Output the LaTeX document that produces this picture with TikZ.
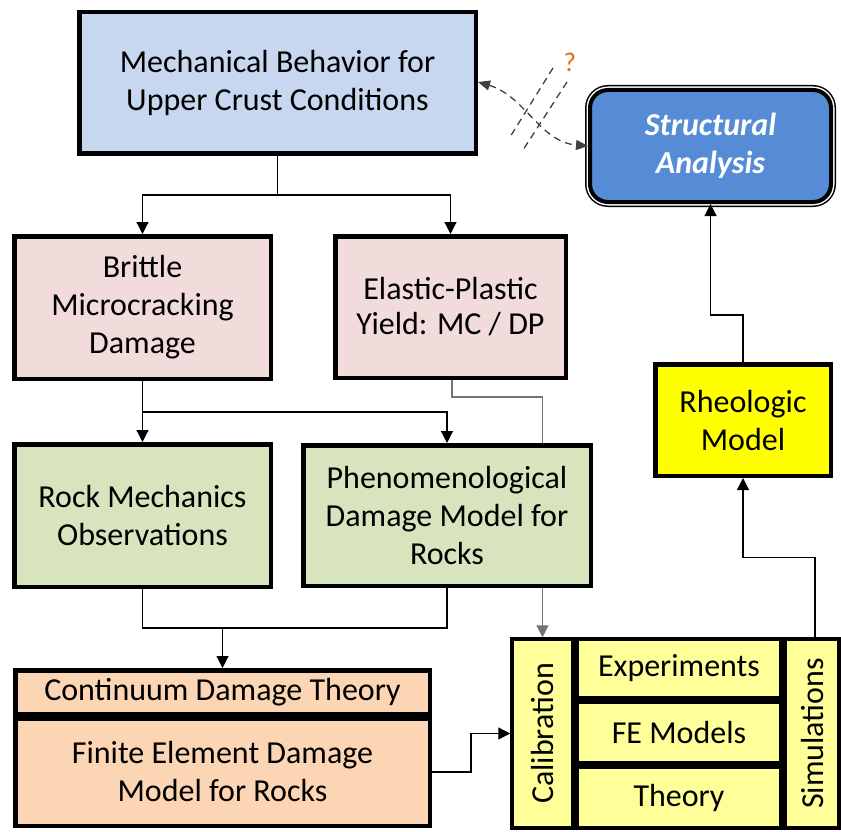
\documentclass[tikz,border=0pt]{standalone}
\usepackage{fontspec}
\setmainfont{Carlito}
\usepackage{graphicx}
\usetikzlibrary{shapes,arrows.meta}

\definecolor{mechblue}{HTML}{C6D7EF}
\definecolor{structblue}{HTML}{558CD5}
\definecolor{brittlepink}{HTML}{F2DCDB}
\definecolor{rockgreen}{HTML}{D7E4BD}
\definecolor{damagepeach}{HTML}{FCD5B5}
\definecolor{calyellow}{HTML}{FFFF99}
\definecolor{rheoyellow}{HTML}{FFFF00}
\definecolor{qorange}{HTML}{E46C0A}

\begin{document}
\begin{tikzpicture}[x=1pt,y=-1pt]
\tikzstyle{box}=[
	rectangle,
	draw,
	line width=4.5pt,
	align=center,
	inner sep=2pt,
	font=\fontsize{32}{38}\selectfont ]
\tikzstyle{cell}=[box, line width=4pt, fill=calyellow]
\tikzstyle{link}=[line width=1.2pt, -{Triangle[length=12pt,width=12pt]}]
\tikzstyle{guess}=[line width=1.3pt, dash pattern=on 7pt off 5pt, black!75]
\useasboundingbox (0,0) rectangle (841,832);
\node[box, fill=mechblue, minimum width=396.5, minimum height=141.5] (mech) at (277.5,83)
	{Mechanical Behavior for\\Upper Crust Conditions};
\node[box, fill=structblue, draw=black, line width=4pt, rounded corners=18pt,
	minimum width=241, minimum height=112, text=white,
	font=\fontsize{32}{38}\selectfont\bfseries\itshape,
	preaction={draw, line width=10pt},
	preaction={draw, white, line width=7pt}] (struct) at (710.5,146)
	{Structural\\Analysis};
\node[box, fill=brittlepink, minimum width=256.5, minimum height=142.5] (brittle) at (142.5,307.5)
	{Brittle\\Microcracking\\Damage};
\node[box, fill=brittlepink, minimum width=230.5, minimum height=141.5] (elastic) at (450.5,307)
	{Elastic-Plastic\\[-3pt]Yield: MC / DP};
\node[box, fill=rockgreen, minimum width=256.5, minimum height=142.5] (rock) at (142.5,515.5)
	{Rock Mechanics\\Observations};
\node[box, fill=rockgreen, minimum width=287.5, minimum height=140.5] (phenom) at (447,515.5)
	{Phenomenological\\Damage Model for\\Rocks};
\node[box, fill=rheoyellow, minimum width=175.5, minimum height=111.5] (rheo) at (743,420)
	{Rheologic\\Model};
\node[box, fill=damagepeach, minimum width=414.5, minimum height=43.5] (cdt) at (222.5,692)
	{Continuum Damage Theory};
\node[box, fill=damagepeach, minimum width=414.5, minimum height=107.5] (fe) at (222.5,772)
	{Finite Element Damage\\Model for Rocks};
\node[cell, minimum width=60.5, minimum height=188.5] (calib) at (542.5,733.5)
	{\rotatebox{90}{Calibration}};
\node[cell, minimum width=203.5, minimum height=59.5] (exp) at (679,668.5) {Experiments};
\node[cell, minimum width=203.5, minimum height=60.5] (fem) at (679,732.5) {FE Models};
\node[cell, minimum width=203.5, minimum height=60.5] (theo) at (679,797.5) {Theory};
\node[cell, minimum width=53.5, minimum height=188.5] (sim) at (812,733.5)
	{\rotatebox{90}{Simulations}};
\draw[link] (mech.south) -- ++(0,39) -| (brittle.north);
\draw[link] (mech.south) -- ++(0,39) -| (elastic.north);
\draw[link] (brittle.south) -- ++(0,31) -| (rock.north);
\draw[link] (brittle.south) -- ++(0,31) -| (phenom.north);
\draw[line width=1.2pt, black!55] ([xshift=1.5]elastic.south) -- ++(0,17) -| (calib.north |- phenom.north);
\draw[link, black!55] (calib.north |- phenom.south) -- (calib.north);
\draw[line width=1.2pt] (rock.south) -- ++(0,39) -| (phenom.south);
\draw[link] ([yshift=40]cdt.north) -- (cdt.north);
\draw[link] (fe.east) -- ++(39,0) |- (calib.west);
\draw[link] ([xshift=3]sim.north) -- ++(0,-80) -| (rheo.south);
\draw[link] (rheo.north) -- ++(0,-47) -| (struct.south);
\draw[guess, {Triangle[length=12pt,width=10pt]}-{Triangle[length=12pt,width=10pt]}]
	([yshift=1]mech.east) .. controls (525,96) and (540,142) .. (struct.west);
\draw[guess] (553,68) -- (510,137);
\draw[guess] (567,82) -- (523,150);
\node[text=qorange, font=\fontsize{27}{30}\selectfont] (q) at (570,62) {?};
\end{tikzpicture}
\end{document}
